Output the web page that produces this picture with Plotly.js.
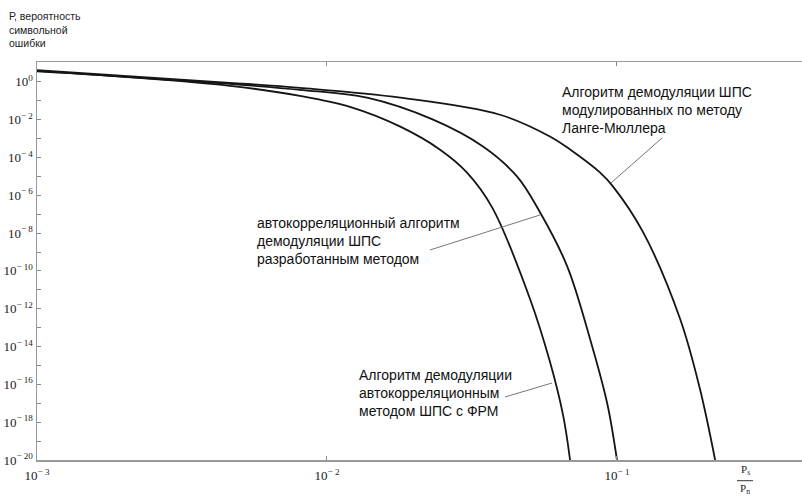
<!DOCTYPE html>
<html>
<head>
<meta charset="utf-8">
<script src="https://cdn.plot.ly/plotly-3.0.1.min.js"></script>
<style>html,body{margin:0;padding:0;background:#fff;}#chart{width:802px;height:498px;}</style>
</head>
<body>
<div id="chart"></div>
<script>
// Curve 1: автокорреляционный метод ШПС с ФРМ
const xFRM = [0.001, 0.00161, 0.00463, 0.00807, 0.0120, 0.0179, 0.02455, 0.0304, 0.0371, 0.0501, 0.0587, 0.0652, 0.0689];
const yFRM = [3.6, 2.34, 0.617, 0.182, 0.0479, 4.3e-3, 2.6e-4, 1.6e-5, 2.3e-7, 3.4e-12, 1.6e-15, 2.3e-18, 1e-20];

// Curve 2: разработанный метод
const xDev = [0.001, 0.00463, 0.00807, 0.01374, 0.02323, 0.03451, 0.0452, 0.0542, 0.0673, 0.0807, 0.0925, 0.100];
const yDev = [3.8, 0.776, 0.38, 0.145, 0.01, 3.8e-4, 1e-5, 1.3e-7, 1.8e-10, 2.6e-14, 1e-17, 1e-20];

// Curve 3: метод Ланге-Мюллера
const xLM = [0.001, 0.00463, 0.00807, 0.0179, 0.0395, 0.0587, 0.0689, 0.0873, 0.0968, 0.123, 0.165, 0.193, 0.218];
const yLM = [4.1, 0.891, 0.479, 0.145, 0.0182, 1.29e-3, 2.63e-4, 1.62e-5, 2.95e-6, 1.12e-8, 2.95e-13, 6.17e-17, 1e-20];

// Tick labels
const xTickVals = [0.001, 0.01, 0.1];
const xTickText = ['10<sup>\u2212 3</sup>', '10<sup>\u2212 2</sup>', '10<sup>\u2212 1</sup>'];
const yMajorExps = [0, -2, -4, -6, -8, -10, -12, -14, -16, -18, -20];
const yMinorExps = [-1, -3, -5, -7, -9, -11, -13, -15, -17, -19];
const yTickVals = yMajorExps.map(e => Math.pow(10, e));
const yTickText = yMajorExps.map(e => e === 0 ? '10<sup>0</sup>' : '10<sup>\u2212 ' + (-e) + '</sup>');
const yMinorVals = yMinorExps.map(e => Math.pow(10, e));

const lineStyle = {color: '#151515', width: 1.8, shape: 'spline', smoothing: 1};
const traces = [
  {x: xFRM, y: yFRM, mode: 'lines', line: lineStyle, hoverinfo: 'skip'},
  {x: xDev, y: yDev, mode: 'lines', line: lineStyle, hoverinfo: 'skip'},
  {x: xLM, y: yLM, mode: 'lines', line: lineStyle, hoverinfo: 'skip'}
];

const serif = 'Liberation Serif, Times New Roman, serif';
const annFont = {family: 'Liberation Sans, Arial, sans-serif', size: 14, color: '#111'};
const layout = {
  width: 802, height: 498,
  margin: {l: 37, r: 0, t: 62, b: 38},
  paper_bgcolor: '#fff', plot_bgcolor: '#fff',
  showlegend: false,
  xaxis: {
    type: 'log', range: [-3, -0.362],
    showgrid: false, zeroline: false,
    showline: true, linecolor: '#999', linewidth: 1.5, mirror: 'ticks',
    ticks: 'inside', ticklen: 4, tickcolor: '#888', tickwidth: 1,
    tickvals: xTickVals, ticktext: xTickText, ticklabelstandoff: 3,
    tickfont: {family: serif, size: 13, color: '#222'}
  },
  yaxis: {
    type: 'log', range: [-20, 1.05],
    showgrid: false, zeroline: false,
    showline: true, linecolor: '#999', linewidth: 1.5, mirror: false,
    ticks: 'inside', ticklen: 4, tickcolor: '#888', tickwidth: 1,
    tickvals: yTickVals, ticktext: yTickText,
    minor: {tickmode: 'array', tickvals: yMinorVals, ticks: 'inside', ticklen: 4, tickcolor: '#888', tickwidth: 1, showgrid: false},
    tickfont: {family: serif, size: 13, color: '#222'}
  },
  annotations: [
    {xref: 'paper', yref: 'paper', x: -0.039, y: 1.135, xanchor: 'left', yanchor: 'top', align: 'left', showarrow: false,
     text: 'Р, вероятность<br>символьной<br>ошибки', font: {family: 'Liberation Sans, Arial, sans-serif', size: 10.5, color: '#222'}},
    {xref: 'paper', yref: 'paper', x: 0.6837, y: 0.8794, xanchor: 'left', yanchor: 'middle', align: 'left', showarrow: false,
     text: 'Алгоритм демодуляции ШПС<br>модулированных по методу<br>Ланге-Мюллера', font: annFont},
    {xref: 'paper', yref: 'paper', x: 0.285, y: 0.5503, xanchor: 'left', yanchor: 'middle', align: 'left', showarrow: false,
     text: 'автокорреляционный алгоритм<br>демодуляции ШПС<br>разработанным методом', font: annFont},
    {xref: 'paper', yref: 'paper', x: 0.4183, y: 0.1683, xanchor: 'left', yanchor: 'middle', align: 'left', showarrow: false,
     text: 'Алгоритм демодуляции<br>автокорреляционным<br>методом ШПС с ФРМ', font: annFont},
    {xref: 'paper', yref: 'paper', x: 0.9255, y: -0.025, xanchor: 'center', yanchor: 'middle', showarrow: false,
     text: 'P<sub>s</sub>', font: {family: serif, size: 11, color: '#222'}},
    {xref: 'paper', yref: 'paper', x: 0.9255, y: -0.073, xanchor: 'center', yanchor: 'middle', showarrow: false,
     text: 'P<sub>n</sub>', font: {family: serif, size: 11, color: '#222'}}
  ],
  shapes: [
    {type: 'line', xref: 'paper', yref: 'paper', x0: 0.817, y0: 0.809, x1: 0.7503, y1: 0.696, line: {color: '#777', width: 1}},
    {type: 'line', xref: 'paper', yref: 'paper', x0: 0.5137, y0: 0.5276, x1: 0.6575, y1: 0.6156, line: {color: '#777', width: 1}},
    {type: 'line', xref: 'paper', yref: 'paper', x0: 0.6118, y0: 0.1583, x1: 0.6732, y1: 0.1935, line: {color: '#777', width: 1}},
    {type: 'line', xref: 'paper', yref: 'paper', x0: 0.915, y0: -0.052, x1: 0.936, y1: -0.052, line: {color: '#333', width: 1}}
  ]
};

Plotly.newPlot('chart', traces, layout, {staticPlot: true, displayModeBar: false});
</script>
</body>
</html>
